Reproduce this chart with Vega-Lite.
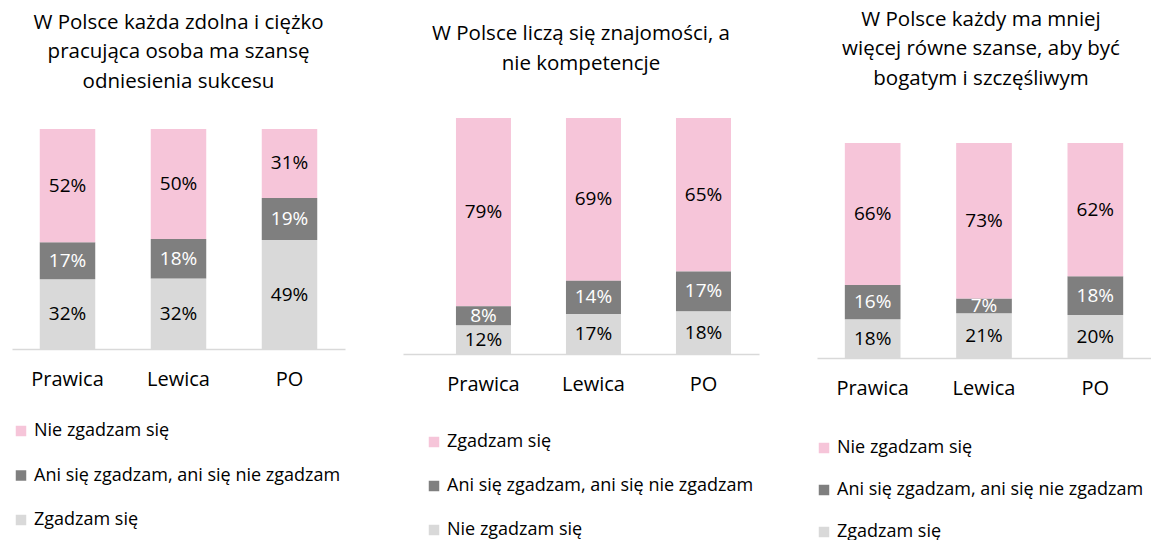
{
  "$schema": "https://vega.github.io/schema/vega-lite/v6.json",
  "padding": {"left": 12, "top": 9, "right": 0, "bottom": 0},
  "background": "white",
  "datasets": {
    "d": [
      {"panel": 1, "party": "Prawica", "answer": "Zgadzam się", "kod": 1, "value": 0.32},
      {"panel": 1, "party": "Prawica", "answer": "Ani się zgadzam, ani się nie zgadzam", "kod": 2, "value": 0.17},
      {"panel": 1, "party": "Prawica", "answer": "Nie zgadzam się", "kod": 3, "value": 0.52},
      {"panel": 1, "party": "Lewica", "answer": "Zgadzam się", "kod": 1, "value": 0.32},
      {"panel": 1, "party": "Lewica", "answer": "Ani się zgadzam, ani się nie zgadzam", "kod": 2, "value": 0.18},
      {"panel": 1, "party": "Lewica", "answer": "Nie zgadzam się", "kod": 3, "value": 0.50},
      {"panel": 1, "party": "PO", "answer": "Zgadzam się", "kod": 1, "value": 0.49},
      {"panel": 1, "party": "PO", "answer": "Ani się zgadzam, ani się nie zgadzam", "kod": 2, "value": 0.19},
      {"panel": 1, "party": "PO", "answer": "Nie zgadzam się", "kod": 3, "value": 0.31},
      {"panel": 2, "party": "Prawica", "answer": "Zgadzam się", "kod": 1, "value": 0.79},
      {"panel": 2, "party": "Prawica", "answer": "Ani się zgadzam, ani się nie zgadzam", "kod": 2, "value": 0.08},
      {"panel": 2, "party": "Prawica", "answer": "Nie zgadzam się", "kod": 3, "value": 0.12},
      {"panel": 2, "party": "Lewica", "answer": "Zgadzam się", "kod": 1, "value": 0.69},
      {"panel": 2, "party": "Lewica", "answer": "Ani się zgadzam, ani się nie zgadzam", "kod": 2, "value": 0.14},
      {"panel": 2, "party": "Lewica", "answer": "Nie zgadzam się", "kod": 3, "value": 0.17},
      {"panel": 2, "party": "PO", "answer": "Zgadzam się", "kod": 1, "value": 0.65},
      {"panel": 2, "party": "PO", "answer": "Ani się zgadzam, ani się nie zgadzam", "kod": 2, "value": 0.17},
      {"panel": 2, "party": "PO", "answer": "Nie zgadzam się", "kod": 3, "value": 0.18},
      {"panel": 3, "party": "Prawica", "answer": "Zgadzam się", "kod": 1, "value": 0.18},
      {"panel": 3, "party": "Prawica", "answer": "Ani się zgadzam, ani się nie zgadzam", "kod": 2, "value": 0.16},
      {"panel": 3, "party": "Prawica", "answer": "Nie zgadzam się", "kod": 3, "value": 0.66},
      {"panel": 3, "party": "Lewica", "answer": "Zgadzam się", "kod": 1, "value": 0.21},
      {"panel": 3, "party": "Lewica", "answer": "Ani się zgadzam, ani się nie zgadzam", "kod": 2, "value": 0.07},
      {"panel": 3, "party": "Lewica", "answer": "Nie zgadzam się", "kod": 3, "value": 0.73},
      {"panel": 3, "party": "PO", "answer": "Zgadzam się", "kod": 1, "value": 0.20},
      {"panel": 3, "party": "PO", "answer": "Ani się zgadzam, ani się nie zgadzam", "kod": 2, "value": 0.18},
      {"panel": 3, "party": "PO", "answer": "Nie zgadzam się", "kod": 3, "value": 0.62}
    ]
  },
  "bounds": "flush",
  "spacing": 58,
  "resolve": {"scale": {"color": "independent", "y": "independent", "x": "independent"}, "legend": {"color": "independent"}},
  "hconcat": [
    {
      "width": 333,
      "height": 231,
      "title": {"text": ["W Polsce każda zdolna i ciężko", "pracująca osoba ma szansę", "odniesienia sukcesu"], "offset": 26},
      "data": {"name": "d"},
      "transform": [
        {"filter": "datum.panel === 1"},
        {"stack": "value", "groupby": ["party"], "sort": [{"field": "kod", "order": "ascending"}], "offset": "normalize", "as": ["y0", "y1"]}
      ],
      "encoding": {
        "x": {"field": "party", "type": "nominal", "sort": ["Prawica", "Lewica", "PO"], "scale": {"paddingInner": 0.5, "paddingOuter": 0.25}, "axis": {"title": null}}
      },
      "layer": [
        {
          "mark": {"type": "bar"},
          "encoding": {
            "y": {"field": "y0", "type": "quantitative", "scale": {"domain": [0, 1.05], "nice": false, "zero": true}, "axis": null},
            "y2": {"field": "y1"},
            "color": {"field": "answer", "type": "nominal",
              "scale": {"domain": ["Nie zgadzam się", "Ani się zgadzam, ani się nie zgadzam", "Zgadzam się"], "range": ["#F6C5D9", "#7F7F7F", "#D9D9D9"]},
              "legend": {"orient": "none", "legendX": 0, "legendY": 304, "rowPadding": 26.5}}
          }
        },
        {
          "transform": [
            {"fold": ["y0", "y1"], "as": ["edge", "pos"]},
            {"aggregate": [{"op": "mean", "field": "pos", "as": "mid"}], "groupby": ["party", "answer", "kod", "value"]}
          ],
          "mark": {"type": "text", "baseline": "middle", "fontSize": 19},
          "encoding": {
            "y": {"field": "mid", "type": "quantitative"},
            "text": {"field": "value", "type": "quantitative", "format": ".0%"},
            "color": {"condition": {"test": "datum.kod === 2", "value": "white"}, "value": "black"}
          }
        }
      ]
    },
    {
      "width": 356,
      "height": 236,
      "title": {"text": ["W Polsce liczą się znajomości, a", "nie kompetencje"], "offset": 44},
      "data": {"name": "d"},
      "transform": [
        {"filter": "datum.panel === 2"},
        {"stack": "value", "groupby": ["party"], "sort": [{"field": "kod", "order": "descending"}], "offset": "normalize", "as": ["y0", "y1"]}
      ],
      "encoding": {
        "x": {"field": "party", "type": "nominal", "sort": ["Prawica", "Lewica", "PO"], "scale": {"paddingInner": 0.5, "paddingOuter": 0.368, "align": 0.654}, "axis": {"title": null}}
      },
      "layer": [
        {
          "mark": {"type": "bar"},
          "encoding": {
            "y": {"field": "y0", "type": "quantitative", "scale": {"domain": [0, 1], "nice": false, "zero": true}, "axis": null},
            "y2": {"field": "y1"},
            "color": {"field": "answer", "type": "nominal",
              "scale": {"domain": ["Zgadzam się", "Ani się zgadzam, ani się nie zgadzam", "Nie zgadzam się"], "range": ["#F6C5D9", "#7F7F7F", "#D9D9D9"]},
              "legend": {"orient": "none", "legendX": 22, "legendY": 315, "rowPadding": 26}}
          }
        },
        {
          "transform": [
            {"fold": ["y0", "y1"], "as": ["edge", "pos"]},
            {"aggregate": [{"op": "mean", "field": "pos", "as": "mid"}], "groupby": ["party", "answer", "kod", "value"]}
          ],
          "mark": {"type": "text", "baseline": "middle", "fontSize": 19},
          "encoding": {
            "y": {"field": "mid", "type": "quantitative"},
            "text": {"field": "value", "type": "quantitative", "format": ".0%"},
            "color": {"condition": {"test": "datum.kod === 2", "value": "white"}, "value": "black"}
          }
        }
      ]
    },
    {
      "width": 334,
      "height": 240,
      "title": {"text": ["W Polsce każdy ma mniej", "więcej równe szanse, aby być", "bogatym i szczęśliwym"], "offset": 29, "dx": -3},
      "data": {"name": "d"},
      "transform": [
        {"filter": "datum.panel === 3"},
        {"stack": "value", "groupby": ["party"], "sort": [{"field": "kod", "order": "ascending"}], "offset": "normalize", "as": ["y0", "y1"]}
      ],
      "encoding": {
        "x": {"field": "party", "type": "nominal", "sort": ["Prawica", "Lewica", "PO"], "scale": {"paddingInner": 0.5, "paddingOuter": 0.25}, "axis": {"title": null}}
      },
      "layer": [
        {
          "mark": {"type": "bar"},
          "encoding": {
            "y": {"field": "y0", "type": "quantitative", "scale": {"domain": [0, 1.1163], "nice": false, "zero": true}, "axis": null},
            "y2": {"field": "y1"},
            "color": {"field": "answer", "type": "nominal",
              "scale": {"domain": ["Nie zgadzam się", "Ani się zgadzam, ani się nie zgadzam", "Zgadzam się"], "range": ["#F6C5D9", "#7F7F7F", "#D9D9D9"]},
              "legend": {"orient": "none", "legendX": -2, "legendY": 321, "rowPadding": 24}}
          }
        },
        {
          "transform": [
            {"fold": ["y0", "y1"], "as": ["edge", "pos"]},
            {"aggregate": [{"op": "mean", "field": "pos", "as": "mid"}], "groupby": ["party", "answer", "kod", "value"]}
          ],
          "mark": {"type": "text", "baseline": "middle", "fontSize": 19},
          "encoding": {
            "y": {"field": "mid", "type": "quantitative"},
            "text": {"field": "value", "type": "quantitative", "format": ".0%"},
            "color": {"condition": {"test": "datum.kod === 2", "value": "white"}, "value": "black"}
          }
        }
      ]
    }
  ],
  "config": {
    "font": "Open Sans",
    "view": {"stroke": null},
    "title": {"fontSize": 20.5, "fontWeight": "normal", "color": "#000000", "lineHeight": 29.5, "anchor": "middle", "frame": "group"},
    "axisX": {"domainColor": "#D9D9D9", "domainWidth": 1.5, "ticks": false, "tickSize": 0, "labelAngle": 0, "labelFontSize": 20, "labelColor": "#000000", "labelPadding": 20, "grid": false},
    "legend": {"title": null, "symbolType": "square", "symbolSize": 110, "symbolStrokeWidth": 0, "labelFontSize": 18, "labelColor": "#000000", "labelOffset": 4, "padding": 0, "labelLimit": 400}
  }
}
